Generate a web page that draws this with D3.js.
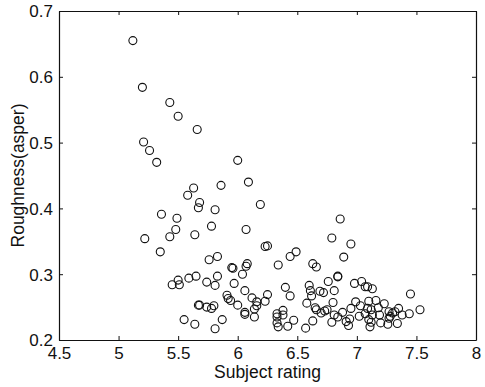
<!DOCTYPE html>
<html>
<head>
<meta charset="utf-8">
<script src="https://cdn.jsdelivr.net/npm/d3@7"></script>
<style>
  html, body { margin: 0; padding: 0; background: #fff; overflow: hidden; }
  svg { display: block; }
  text { font-family: "Liberation Sans", Arial, sans-serif; fill: #111; }
</style>
</head>
<body>
<div id="chart"></div>
<script>
// subject rating (x) and roughness (y)
var rating = [5.12,5.20,5.43,5.50,5.66,5.21,5.26,5.32,6.00,5.86,6.09,5.63,5.58,5.68,5.67,5.81,6.19,5.36,5.49,5.78,
  5.48,6.07,5.43,5.64,5.22,6.23,6.25,5.35,5.76,5.83,6.08,6.07,5.95,5.96,6.04,6.34,6.44,6.49,5.65,5.59,
  5.50,5.45,5.51,5.83,5.74,5.81,5.97,6.06,5.91,5.92,5.94,6.00,6.12,6.16,6.16,6.25,6.23,6.14,6.06,6.06,
  6.14,5.67,5.68,5.74,5.78,5.80,5.55,5.64,5.87,5.81,6.40,6.44,6.33,6.33,6.38,6.38,6.33,6.34,6.42,6.47,
  6.57,6.63,6.58,6.60,6.61,6.62,6.65,6.66,6.63,6.66,6.69,6.72,6.70,6.73,6.75,6.76,6.84,6.84,6.81,6.80,
  6.79,6.81,6.84,6.88,6.91,6.94,6.93,6.95,6.79,6.86,6.95,6.89,6.98,7.04,7.07,7.09,7.13,6.99,7.03,7.02,
  7.07,7.09,7.10,7.12,7.16,7.18,7.13,7.19,7.12,7.11,7.20,7.23,7.27,7.28,7.27,7.30,7.32,7.35,7.34,7.26,
  7.38,7.44,7.45,7.53,7.10];
var roughness = [0.655,0.584,0.561,0.540,0.520,0.501,0.488,0.470,0.473,0.435,0.440,0.431,0.420,0.409,0.401,0.398,0.406,0.391,0.385,0.373,
  0.368,0.368,0.357,0.360,0.354,0.342,0.343,0.334,0.322,0.327,0.316,0.312,0.310,0.309,0.300,0.314,0.327,0.334,0.297,0.294,
  0.291,0.284,0.284,0.297,0.288,0.283,0.286,0.275,0.268,0.263,0.260,0.253,0.264,0.258,0.252,0.269,0.259,0.247,0.242,0.239,
  0.235,0.253,0.253,0.250,0.248,0.252,0.231,0.224,0.231,0.217,0.280,0.267,0.240,0.235,0.245,0.238,0.226,0.220,0.221,0.230,
  0.218,0.229,0.256,0.283,0.275,0.267,0.249,0.246,0.316,0.311,0.274,0.272,0.241,0.244,0.246,0.289,0.297,0.296,0.275,0.257,
  0.227,0.238,0.235,0.242,0.228,0.232,0.222,0.248,0.355,0.384,0.346,0.326,0.286,0.289,0.281,0.281,0.278,0.258,0.252,0.236,
  0.240,0.248,0.259,0.246,0.260,0.249,0.238,0.238,0.227,0.220,0.226,0.255,0.243,0.236,0.233,0.241,0.243,0.248,0.225,0.224,
  0.238,0.240,0.270,0.246,0.231];
var xTicks = [4.5,5,5.5,6,6.5,7,7.5,8];
var yTicks = [0.2,0.3,0.4,0.5,0.6,0.7];

var width = 485, height = 387;
var margin = {top: 11, right: 9, bottom: 47, left: 59};
var innerWidth = width - margin.left - margin.right,
    innerHeight = height - margin.top - margin.bottom;

var svg = d3.select("#chart").append("svg")
  .attr("width", width).attr("height", height);
var g = svg.append("g")
  .attr("transform", "translate(" + margin.left + "," + margin.top + ")");

var xScale = d3.scaleLinear().domain([4.5, 8]).range([0, innerWidth]);
var yScale = d3.scaleLinear().domain([0.2, 0.7]).range([innerHeight, 0]);

// axes with inward ticks, mirrored on top and right
var fmt = d3.format("~g");
var xAxis = g.append("g").attr("transform", "translate(0," + innerHeight + ")")
  .call(d3.axisBottom(xScale).tickValues(xTicks).tickFormat(fmt).tickSizeInner(-4).tickSizeOuter(0).tickPadding(7));
var yAxis = g.append("g")
  .call(d3.axisLeft(yScale).tickValues(yTicks).tickFormat(fmt).tickSizeInner(-4).tickSizeOuter(0).tickPadding(6));
g.append("g")
  .call(d3.axisTop(xScale).tickValues(xTicks).tickFormat("").tickSizeInner(-4).tickSizeOuter(0));
g.append("g").attr("transform", "translate(" + innerWidth + ",0)")
  .call(d3.axisRight(yScale).tickValues(yTicks).tickFormat("").tickSizeInner(-4).tickSizeOuter(0));

g.selectAll(".domain").attr("stroke", "#111").attr("stroke-width", 1.2);
g.selectAll(".tick line").attr("stroke", "#111");
g.selectAll(".tick text").style("font-size", "17px").style("font-family", "'Liberation Sans', Arial, sans-serif").attr("fill", "#111");
yAxis.selectAll(".tick text").attr("dy", "0.35em");

// points
g.selectAll("circle")
  .data(d3.range(rating.length))
  .enter()
  .append("circle")
    .attr("cx", function(i) { return xScale(rating[i]); })
    .attr("cy", function(i) { return yScale(roughness[i]); })
    .attr("r", 4)
    .attr("fill", "none")
    .attr("stroke", "#111")
    .attr("stroke-width", 1.1);

// labels
svg.append("text")
  .attr("x", margin.left + innerWidth / 2).attr("y", 378)
  .attr("text-anchor", "middle")
  .style("font-size", "17.5px")
  .text("Subject rating");
svg.append("text")
  .attr("transform", "translate(24," + (margin.top + innerHeight / 2) + ") rotate(-90)")
  .attr("text-anchor", "middle")
  .style("font-size", "17.5px")
  .text("Roughness(asper)");
</script>
</body>
</html>
